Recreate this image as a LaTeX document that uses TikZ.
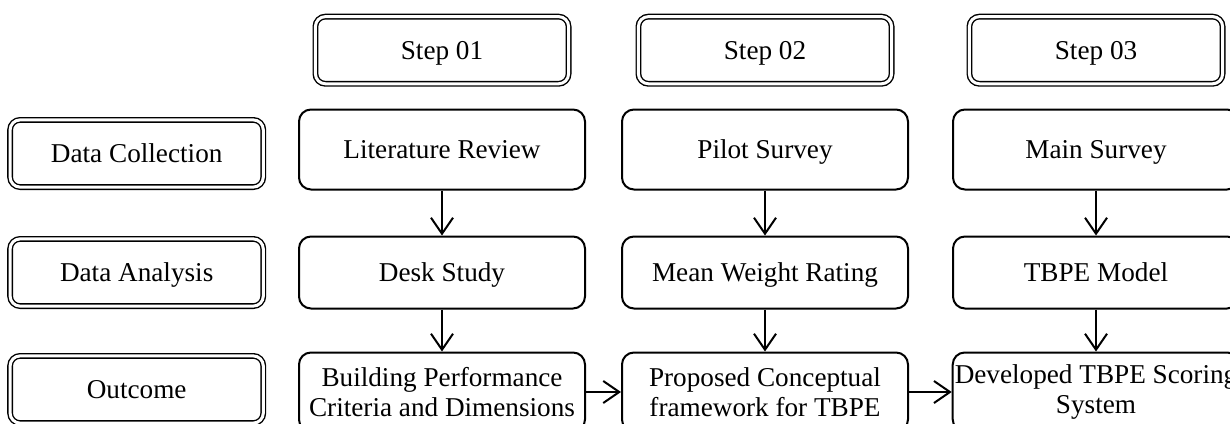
\documentclass[tikz,border=0pt]{standalone}
\usepackage{fontspec}
\setmainfont{Liberation Serif}
\usetikzlibrary{arrows.meta,positioning}

\begin{document}
\begin{tikzpicture}[node distance=16.5pt, every node/.style={font=\fontsize{13.6}{15}\selectfont}, box/.style={draw,line width=1pt,rounded corners=6pt,align=center,minimum width=143pt,inner xsep=1pt}, oneline/.style={text depth=0pt}, headbox/.style={draw,line width=0.7pt,double,double distance=1.5pt,rounded corners=5pt,minimum width=126.6pt,minimum height=33.6pt,text depth=0pt}, >={Straight Barb[length=8pt,width=11pt]}]
\useasboundingbox (0,0) rectangle (615pt,-211.5pt);
\node[box,oneline,minimum height=40pt] (lit) at (221pt,-74.75pt) {Literature Review};
\node[box,oneline,minimum height=40pt,right=17.5pt of lit] (pilot) {Pilot Survey};
\node[box,oneline,minimum height=40pt,right=21.5pt of pilot] (mainsv) {Main Survey};
\node[box,oneline,minimum height=36pt,below=22.5pt of lit] (desk) {Desk Study};
\node[box,oneline,minimum height=36pt,below=22.5pt of pilot] (mwr) {Mean Weight Rating};
\node[box,oneline,minimum height=36pt,below=22.5pt of mainsv] (tbpe) {TBPE Model};
\node[box,minimum height=39.5pt,below=21pt of desk] (bpc) {Building Performance\\Criteria and Dimensions};
\node[box,minimum height=39.5pt,below=21pt of mwr] (pcf) {Proposed Conceptual\\framework for TBPE};
\node[box,minimum height=39.5pt,below=21pt of tbpe] (scoring) {Developed TBPE Scoring\\System};
\node[headbox,above=12pt of lit] (s1) {Step 01};
\node[headbox,above=12pt of pilot] (s2) {Step 02};
\node[headbox,above=12pt of mainsv] (s3) {Step 03};
\node[headbox,left=17pt of lit,yshift=-2pt] (dc) {Data Collection};
\node[headbox,left=17pt of desk] (da) {Data Analysis};
\node[headbox,left=17pt of bpc,yshift=1.25pt] (out) {Outcome};
\foreach \a/\b in {lit/desk,desk/bpc,pilot/mwr,mwr/pcf,mainsv/tbpe,tbpe/scoring,bpc/pcf,pcf/scoring} \draw[->,line width=1pt] (\a)--(\b);
\end{tikzpicture}
\end{document}
